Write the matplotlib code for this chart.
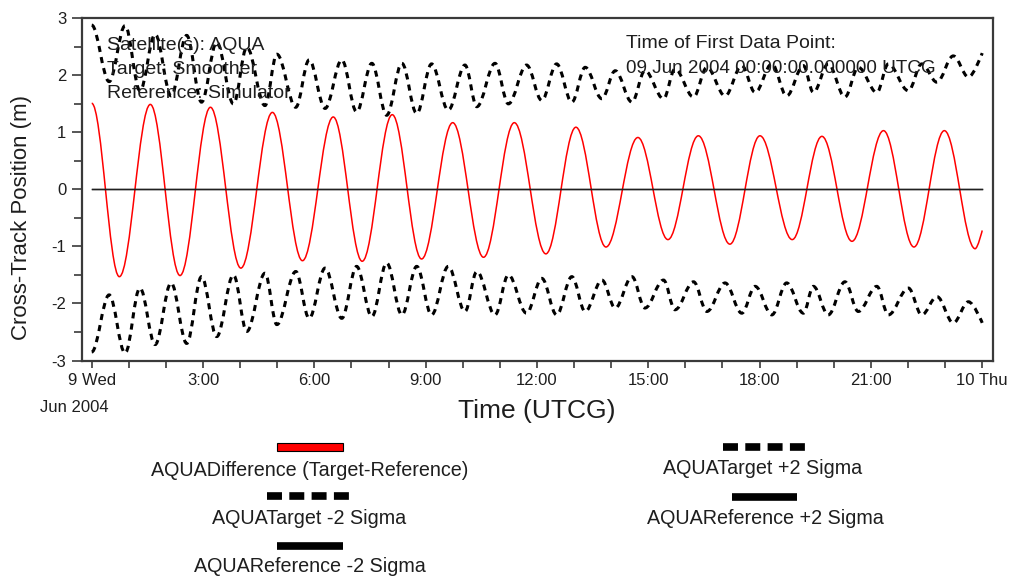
import matplotlib
matplotlib.use("Agg")
import matplotlib.pyplot as plt
from matplotlib.path import Path
from matplotlib.patches import PathPatch, Rectangle
from matplotlib.ticker import MultipleLocator

plt.rcParams['font.family'] = ['Liberation Sans', 'DejaVu Sans']
plt.rcParams['axes.unicode_minus'] = False

# hours after 09 Jun 2004 00:00 UTCG, peaks/troughs
diff_t = [0.00, 0.745, 1.58, 2.38, 3.20, 4.02, 4.87, 5.68, 6.51, 7.29, 8.10,
          8.89, 9.73, 10.56, 11.39, 12.24, 13.05, 13.86, 14.72, 15.53, 16.35,
          17.20, 18.01, 18.88, 19.68, 20.49, 21.34, 22.16, 22.98, 23.81, 24.00]
diff_v = [1.51, -1.53, 1.49, -1.51, 1.44, -1.38, 1.35, -1.25, 1.27, -1.26, 1.31,
          -1.22, 1.17, -1.19, 1.17, -1.13, 1.09, -1.01, 0.91, -0.88, 0.94,
          -0.96, 0.94, -0.88, 0.93, -0.91, 1.03, -1.01, 1.03, -1.04, -0.72]

sig_t = [0.00, 0.47, 0.90, 1.30, 1.71, 2.14, 2.56, 2.96, 3.37, 3.82,
         4.18, 4.67, 4.99, 5.50, 5.86, 6.29, 6.74, 7.14, 7.55, 7.95,
         8.36, 8.76, 9.16, 9.61, 10.06, 10.38, 10.87, 11.23, 11.72, 12.13,
         12.53, 12.94, 13.30, 13.75, 14.11, 14.56, 14.91, 15.41, 15.72, 16.22,
         16.58, 17.07, 17.52, 17.88, 18.33, 18.73, 19.18, 19.45, 19.85, 20.30,
         20.66, 21.16, 21.47, 22.01, 22.37, 22.78, 23.22, 23.63, 24.00]
tgt_plus = [2.88, 1.89, 2.87, 1.73, 2.72, 1.64, 2.70, 1.53, 2.58, 1.50,
            2.49, 1.47, 2.37, 1.44, 2.27, 1.42, 2.27, 1.36, 2.21, 1.30,
            2.21, 1.33, 2.20, 1.39, 2.18, 1.45, 2.21, 1.50, 2.18, 1.56,
            2.20, 1.53, 2.14, 1.59, 2.08, 1.53, 2.08, 1.59, 2.11, 1.62,
            2.14, 1.64, 2.17, 1.70, 2.20, 1.64, 2.17, 1.70, 2.20, 1.62,
            2.14, 1.70, 2.20, 1.73, 2.20, 1.88, 2.34, 1.97, 2.39]
tgt_minus = [-2.85, -1.85, -2.87, -1.73, -2.72, -1.64, -2.70, -1.53, -2.58, -1.50,
             -2.49, -1.47, -2.37, -1.44, -2.26, -1.38, -2.26, -1.35, -2.23, -1.29,
             -2.20, -1.35, -2.20, -1.35, -2.14, -1.44, -2.20, -1.50, -2.17, -1.56,
             -2.20, -1.53, -2.14, -1.59, -2.08, -1.53, -2.08, -1.59, -2.11, -1.62,
             -2.14, -1.64, -2.17, -1.70, -2.20, -1.64, -2.17, -1.70, -2.20, -1.62,
             -2.14, -1.70, -2.20, -1.73, -2.20, -1.88, -2.34, -1.97, -2.34]

# simulator reference has no covariance
ref_t = [0.0, 24.0]
ref_plus = [0.0, 0.0]
ref_minus = [0.0, 0.0]

tick_hours = [0, 3, 6, 9, 12, 15, 18, 21, 24]
tick_labels = ['9 Wed', '3:00', '6:00', '9:00', '12:00', '15:00', '18:00', '21:00', '10 Thu']

TXT = '#1e1e1e'
EDGE = '#3a3a3a'


def smooth_path(ts, vs, k=0.364):
    # cubic segments between extremes, flat tangent at each peak/trough
    verts = [(ts[0], vs[0])]
    codes = [Path.MOVETO]
    for i in range(len(ts) - 1):
        dt = ts[i + 1] - ts[i]
        c1 = (ts[i] + k * dt, vs[i])
        c2 = (ts[i + 1] - k * dt, vs[i + 1])
        if i == len(ts) - 2:
            c2 = (ts[i + 1], vs[i + 1])
        verts += [c1, c2, (ts[i + 1], vs[i + 1])]
        codes += [Path.CURVE4] * 3
    return Path(verts, codes)


fig = plt.figure(figsize=(10.16, 5.77), dpi=100)
ax = fig.add_axes([0.0804, 0.3752, 0.8973, 0.5931])

ax.plot(ref_t, ref_plus, color='#202020', lw=1.0)
ax.plot(ref_t, ref_minus, color='#202020', lw=1.0)
ax.add_patch(PathPatch(smooth_path(sig_t, tgt_plus), fill=False, edgecolor='black',
                       lw=2.2, linestyle=(0, (2.0, 1.7))))
ax.add_patch(PathPatch(smooth_path(sig_t, tgt_minus), fill=False, edgecolor='black',
                       lw=2.2, linestyle=(0, (2.0, 1.7))))
ax.add_patch(PathPatch(smooth_path(diff_t, diff_v), fill=False, edgecolor='#ff0000', lw=1.1))

ax.set_xlim(-0.27, 24.3)
ax.set_ylim(-3, 3)
ax.set_xticks(tick_hours, tick_labels)
ax.xaxis.set_minor_locator(MultipleLocator(1))
ax.yaxis.set_major_locator(MultipleLocator(1))
ax.yaxis.set_minor_locator(MultipleLocator(0.5))
ax.tick_params(axis='x', which='both', direction='out', length=5, width=1.2,
               color=EDGE, labelsize=12, labelcolor=TXT, pad=4)
ax.tick_params(axis='y', which='major', direction='out', length=7, width=1.2,
               color=EDGE, labelsize=12, labelcolor=TXT, pad=4)
ax.tick_params(axis='y', which='minor', direction='out', length=6, width=1.2, color=EDGE)
for s in ax.spines.values():
    s.set_color(EDGE)
    s.set_linewidth(1.6)

# overlay in pixel coordinates for the free text and the legend
lax = fig.add_axes([0, 0, 1, 1])
lax.set_xlim(0, 1016)
lax.set_ylim(577, 0)
lax.axis('off')

for i, line in enumerate(['Satellite(s): AQUA', 'Target: Smoother', 'Reference: Simulator']):
    lax.text(107, 45 + 24 * i, line, fontsize=14, color=TXT, ha='left', va='center')
lax.text(626, 44, 'Time of First Data Point:', fontsize=14, color=TXT, ha='left', va='center')
lax.text(626, 68.5, '09 Jun 2004 00:00:00.000000 UTCG', fontsize=13.6, color=TXT,
         ha='left', va='center')

lax.text(74, 408, 'Jun 2004', fontsize=12, color=TXT, ha='center', va='center')
lax.text(537, 411, 'Time (UTCG)', fontsize=19, color=TXT, ha='center', va='center')
lax.text(22, 218, 'Cross-Track Position (m)', fontsize=16, color=TXT, ha='center',
         va='center', rotation=90)

# legend: swatch above label, two columns
lax.add_patch(Rectangle((277, 443), 66, 8, facecolor='#ff0000', edgecolor='black', lw=0.8))
lax.text(310, 470, 'AQUADifference (Target-Reference)', fontsize=14.2, color=TXT,
         ha='center', va='center')
lax.plot([267, 349], [496, 496], color='black', lw=5.5, linestyle=(0, (1.96, 0.96)))
lax.text(309, 519, 'AQUATarget -2 Sigma', fontsize=14.2, color=TXT, ha='center', va='center')
lax.plot([277, 343], [545.5, 545.5], color='black', lw=5.5, solid_capstyle='butt')
lax.text(310, 567, 'AQUAReference -2 Sigma', fontsize=14.2, color=TXT, ha='center', va='center')

lax.plot([722.5, 805], [447, 447], color='black', lw=5.5, linestyle=(0, (1.96, 0.96)))
lax.text(763, 469, 'AQUATarget +2 Sigma', fontsize=14.2, color=TXT, ha='center', va='center')
lax.plot([732, 797], [497, 497], color='black', lw=5.5, solid_capstyle='butt')
lax.text(765, 518, 'AQUAReference +2 Sigma', fontsize=14.2, color=TXT, ha='center', va='center')

fig.savefig('out.png', dpi=100)
